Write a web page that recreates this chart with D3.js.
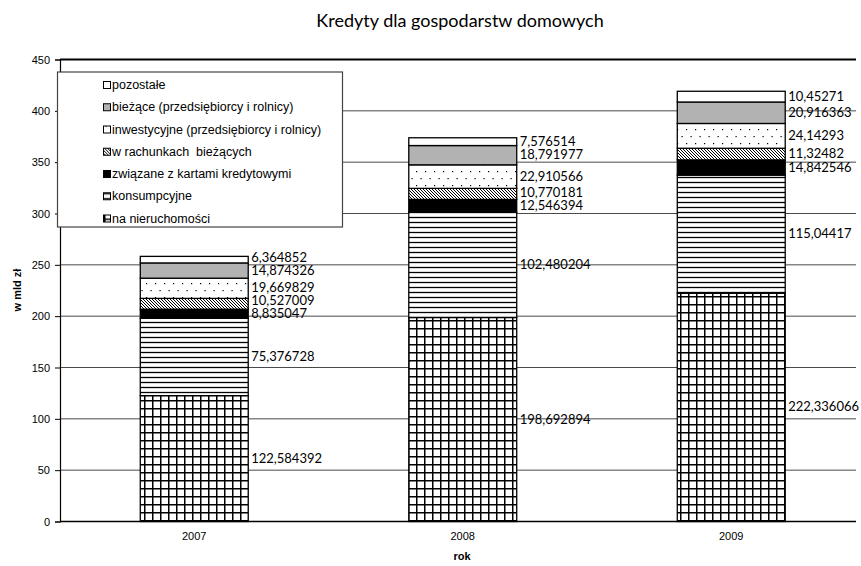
<!DOCTYPE html>
<html>
<head>
<meta charset="utf-8">
<script src="https://cdn.jsdelivr.net/npm/d3@7"></script>
<style>
  html, body { margin: 0; padding: 0; background: #fff; }
  svg { display: block; }
</style>
</head>
<body>
<svg id="chart" width="861" height="566"></svg>
<script>
// Years on the category axis
const years = ["2007", "2008", "2009"];

// Series values (mld zł), stacked from the bottom up
const naNieruchomosci = [122.584392, 198.692894, 222.336066];
const konsumpcyjne = [75.376728, 102.480204, 115.04417];
const zKartami = [8.835047, 12.546394, 14.842546];
const wRachunkach = [10.527009, 10.770181, 11.32482];
const inwestycyjne = [19.669829, 22.910566, 24.14293];
const biezace = [14.874326, 18.791977, 20.916363];
const pozostale = [6.364852, 7.576514, 10.45271];

// Series names, same bottom-up order
const seriesNames = [
  "na nieruchomości",
  "konsumpcyjne",
  "związane z kartami kredytowymi",
  "w rachunkach  bieżących",
  "inwestycyjne (przedsiębiorcy i rolnicy)",
  "bieżące (przedsiębiorcy i rolnicy)",
  "pozostałe"
];
const seriesValues = [naNieruchomosci, konsumpcyjne, zKartami, wRachunkach, inwestycyjne, biezace, pozostale];

// Value axis ticks
const yTicks = [0, 50, 100, 150, 200, 250, 300, 350, 400, 450];

const fills = ["url(#pGrid)", "url(#pHLines)", "#000", "url(#pDiag)", "url(#pDots)", "#b2b2b2", "#fff"];

const svg = d3.select("#chart");

// Fill patterns
const defs = svg.append("defs");
const pg = defs.append("pattern").attr("id", "pGrid").attr("patternUnits", "userSpaceOnUse")
  .attr("width", 8).attr("height", 8);
pg.append("rect").attr("width", 8).attr("height", 8).attr("fill", "#fff");
pg.append("path").attr("d", "M0.75,0V8M0,0.75H8").attr("stroke", "#000").attr("stroke-width", 1.5);

const ph = defs.append("pattern").attr("id", "pHLines").attr("patternUnits", "userSpaceOnUse")
  .attr("width", 8).attr("height", 5);
ph.append("rect").attr("width", 8).attr("height", 5).attr("fill", "#fff");
ph.append("path").attr("d", "M0,2.5H8").attr("stroke", "#000").attr("stroke-width", 1.3);

const pd = defs.append("pattern").attr("id", "pDiag").attr("patternUnits", "userSpaceOnUse")
  .attr("width", 3).attr("height", 3);
pd.append("rect").attr("width", 3).attr("height", 3).attr("fill", "#fff");
pd.append("path").attr("d", "M0,0L3,3M-1,2L1,4M2,-1L4,1").attr("stroke", "#000").attr("stroke-width", 1);

const pdt = defs.append("pattern").attr("id", "pDots").attr("patternUnits", "userSpaceOnUse")
  .attr("width", 9).attr("height", 14);
pdt.append("rect").attr("width", 9).attr("height", 14).attr("fill", "#fff");
pdt.append("rect").attr("x", 2).attr("y", 3).attr("width", 1.2).attr("height", 1.2).attr("fill", "#000");
pdt.append("rect").attr("x", 6.5).attr("y", 10).attr("width", 1.2).attr("height", 1.2).attr("fill", "#000");

// Scales
const x = d3.scaleBand().domain(years).range([60, 865.5]).paddingInner(0.598).paddingOuter(0.299);
const y = d3.scaleLinear().domain([0, 450]).range([521.5, 59.5]);
const plotRight = 856;

// Title
svg.append("text").attr("x", 460).attr("y", 20).attr("text-anchor", "middle")
  .attr("dominant-baseline", "central")
  .style("font-family", "Lato, 'Open Sans', sans-serif").style("font-size", "18px")
  .text("Kredyty dla gospodarstw domowych");

// Horizontal gridlines
svg.append("g").selectAll("line").data(yTicks.filter(d => d > 0)).join("line")
  .attr("x1", 60).attr("x2", plotRight)
  .attr("y1", d => y(d)).attr("y2", d => y(d))
  .attr("stroke", d => d === 450 ? "#000" : "#4a4a4a")
  .attr("stroke-width", d => d === 450 ? 2 : 1);

// Value axis
const yAxis = svg.append("g").attr("transform", "translate(60,0)")
  .call(d3.axisLeft(y).tickValues(yTicks).tickSize(5).tickPadding(5).tickFormat(d3.format("d")));
yAxis.select(".domain").attr("stroke", "#000").attr("stroke-width", 1.2);
yAxis.selectAll(".tick line").attr("stroke", "#000");
yAxis.selectAll(".tick text").style("font-family", "'Liberation Sans', Arial, sans-serif")
  .style("font-size", "11px").attr("fill", "#000");

// Stacked columns
const stackData = years.map((yr, i) => {
  const o = { year: yr };
  seriesNames.forEach((s, j) => { o[s] = seriesValues[j][i]; });
  return o;
});
const stacked = d3.stack().keys(seriesNames)(stackData);

const layers = svg.append("g").selectAll("g").data(stacked).join("g")
  .attr("fill", (d, i) => fills[i]);
layers.selectAll("rect").data(d => d).join("rect")
  .attr("x", d => x(d.data.year))
  .attr("width", x.bandwidth())
  .attr("y", d => y(d[1]))
  .attr("height", d => y(d[0]) - y(d[1]))
  .attr("stroke", "#000").attr("stroke-width", 1.3);

// Category axis
svg.append("line").attr("x1", 60).attr("x2", plotRight).attr("y1", y(0)).attr("y2", y(0))
  .attr("stroke", "#000").attr("stroke-width", 1.3);
svg.append("g").selectAll("text").data(years).join("text")
  .attr("x", d => x(d) + x.bandwidth() / 2).attr("y", 536)
  .attr("text-anchor", "middle").attr("dominant-baseline", "central")
  .style("font-family", "'Liberation Sans', Arial, sans-serif").style("font-size", "11px")
  .text(d => d);

// Axis titles
svg.append("text").attr("x", 462).attr("y", 556).attr("text-anchor", "middle")
  .attr("dominant-baseline", "central")
  .style("font-family", "'Liberation Sans', Arial, sans-serif").style("font-size", "11px")
  .style("font-weight", "bold").text("rok");
svg.append("text").attr("transform", "translate(17,290) rotate(-90)").attr("text-anchor", "middle")
  .attr("dominant-baseline", "central")
  .style("font-family", "'Liberation Sans', Arial, sans-serif").style("font-size", "11px")
  .style("font-weight", "bold").text("w mld zł");

// Value labels to the right of each column, nudged apart where crowded
const fmt = v => String(v).replace(".", ",");
years.forEach((yr, i) => {
  const items = stacked.map(layer => {
    const seg = layer[i];
    return { v: seg.data[layer.key], cy: (y(seg[0]) + y(seg[1])) / 2 - 1 };
  });
  for (let k = 1; k < items.length; k++) {
    if (items[k - 1].cy - items[k].cy < 12.5) items[k].cy = items[k - 1].cy - 12.5;
  }
  svg.append("g").selectAll("text").data(items).join("text")
    .attr("x", x(yr) + x.bandwidth() + 3).attr("y", d => d.cy)
    .attr("dominant-baseline", "central")
    .style("font-family", "Lato, 'Open Sans', sans-serif").style("font-size", "13px")
    .text(d => fmt(d.v));
});

// Legend
const lg = svg.append("g");
lg.append("rect").attr("x", 57.5).attr("y", 72).attr("width", 285).attr("height", 155)
  .attr("fill", "#fff").attr("stroke", "#444").attr("stroke-width", 1.2);
const legendOrder = seriesNames.map((s, i) => ({ name: s, fill: fills[i] })).reverse();
const rowY = d3.scalePoint().domain(legendOrder.map(d => d.name)).range([85, 218.5]);
const rows = lg.selectAll("g.row").data(legendOrder).join("g").attr("class", "row")
  .attr("transform", d => `translate(0,${rowY(d.name)})`);
rows.append("rect").attr("x", 103.5).attr("y", -3.5).attr("width", 7).attr("height", 7)
  .attr("fill", d => d.fill).attr("stroke", "#000").attr("stroke-width", 1);
rows.append("text").attr("x", 112).attr("y", 0).attr("dominant-baseline", "central")
  .style("font-family", "'Liberation Sans', Arial, sans-serif").style("font-size", "12.5px")
  .style("white-space", "pre")
  .text(d => d.name);
</script>
</body>
</html>
